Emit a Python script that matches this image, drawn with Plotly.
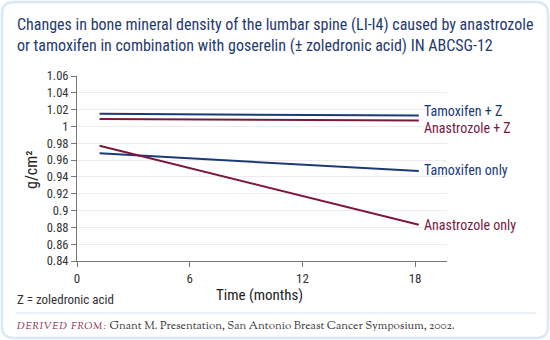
import plotly.graph_objects as go

# Time points (months) and lumbar-spine BMD (g/cm²) for each arm
months = [1.2, 18.2]
tamoxifen_z = [1.015, 1.013]
anastrozole_z = [1.009, 1.007]
tamoxifen_only = [0.968, 0.947]
anastrozole_only = [0.977, 0.883]

series_names = ["Tamoxifen + Z", "Anastrozole + Z", "Tamoxifen only", "Anastrozole only"]
series_values = [tamoxifen_z, anastrozole_z, tamoxifen_only, anastrozole_only]
series_colors = ["#1b3a78", "#7b1840", "#1b3a78", "#7b1840"]
label_shift = [5, -7, 1, 0]

y_ticks = [0.84, 0.86, 0.88, 0.9, 0.92, 0.94, 0.96, 0.98, 1.0, 1.02, 1.04, 1.06]
y_tick_text = ["0.84", "0.86", "0.88", "0.9", "0.92", "0.94", "0.96", "0.98", "1", "1.02", "1.04", "1.06"]
x_ticks = [0, 6, 12, 18]

NARROW = "Roboto Condensed, Archivo Narrow, Liberation Sans Narrow, sans-serif"
SERIF = "Sorts Mill Goudy, Crimson Text, Liberation Serif, serif"

W, H = 550, 340
L, R, T, B = 77, 103, 76, 79
PW, PH = W - L - R, H - T - B


def px_x(x):
    """Pixel column -> paper x."""
    return (x - L) / PW


def px_y(y):
    """Pixel row (from top) -> paper y."""
    return (H - B - y) / PH


fig = go.Figure()
for name, vals, col, dy in zip(series_names, series_values, series_colors, label_shift):
    fig.add_trace(go.Scatter(x=months, y=vals, mode="lines", name=name,
                             line=dict(color=col, width=2), showlegend=False,
                             hoverinfo="skip"))
    fig.add_annotation(x=months[-1], y=vals[-1], xref="x", yref="y", text=name,
                       showarrow=False, xanchor="left", yanchor="middle",
                       xshift=3, yshift=dy,
                       font=dict(family=NARROW, size=14, color=col))

fig.update_layout(
    width=W, height=H,
    margin=dict(l=L, r=R, t=T, b=B),
    paper_bgcolor="white", plot_bgcolor="white",
    xaxis=dict(range=[0, 19.7], tickvals=x_ticks, ticks="outside", ticklen=5,
               tickcolor="#777", showline=True, linecolor="#777", linewidth=1,
               showgrid=False, zeroline=False,
               tickfont=dict(family=NARROW, size=13, color="#333")),
    yaxis=dict(range=[0.84, 1.06], tickvals=y_ticks, ticktext=y_tick_text,
               ticks="outside", ticklen=5, tickcolor="#777",
               showline=True, linecolor="#777", linewidth=1,
               showgrid=True, gridcolor="#ececec", gridwidth=1, zeroline=False,
               tickfont=dict(family=NARROW, size=12.5, color="#333")),
)

# Rounded outer frame, built in pixel space
x0, x1, y0, y1, rad = 2, 548, 2, 338, 12
pts = [("M", x0 + rad, y0), ("L", x1 - rad, y0), ("Q", x1, y0, x1, y0 + rad),
       ("L", x1, y1 - rad), ("Q", x1, y1, x1 - rad, y1), ("L", x0 + rad, y1),
       ("Q", x0, y1, x0, y1 - rad), ("L", x0, y0 + rad), ("Q", x0, y0, x0 + rad, y0)]
path = ""
for p in pts:
    cmd, coords = p[0], p[1:]
    pairs = [f"{px_x(coords[i]):.5f},{px_y(coords[i + 1]):.5f}" for i in range(0, len(coords), 2)]
    path += f"{cmd} " + " ".join(pairs) + " "
path += "Z"
fig.add_shape(type="path", xref="paper", yref="paper", path=path,
              line=dict(color="#dbe8f6", width=2.5), layer="below")
# divider above the source line
fig.add_shape(type="line", xref="paper", yref="paper",
              x0=px_x(16), x1=px_x(536), y0=px_y(313), y1=px_y(313),
              line=dict(color="#e0ebf7", width=1.5))

# Title
fig.add_annotation(xref="paper", yref="paper", x=px_x(15), y=px_y(13),
                   xanchor="left", yanchor="top", showarrow=False, align="left",
                   text="Changes in bone mineral density of the lumbar spine (LI-I4) caused by anastrozole<br>"
                        "or tamoxifen in combination with goserelin (± zoledronic acid) IN ABCSG-12",
                   font=dict(family=NARROW, size=16, color="#1f3a6e"))
# Axis titles
fig.add_annotation(xref="paper", yref="paper", x=px_x(259), y=px_y(295),
                   xanchor="center", yanchor="middle", showarrow=False,
                   text="Time (months)",
                   font=dict(family=NARROW, size=15, color="#222"))
fig.add_annotation(xref="paper", yref="paper", x=px_x(31), y=px_y(170),
                   xanchor="center", yanchor="middle", showarrow=False, textangle=-90,
                   text="g/cm²",
                   font=dict(family=NARROW, size=16, color="#222"))
# Footnotes
fig.add_annotation(xref="paper", yref="paper", x=px_x(15), y=px_y(299),
                   xanchor="left", yanchor="middle", showarrow=False,
                   text="Z = zoledronic acid",
                   font=dict(family=NARROW, size=13, color="#333"))
fig.add_annotation(xref="paper", yref="paper", x=px_x(15), y=px_y(326),
                   xanchor="left", yanchor="middle", showarrow=False,
                   text="<i><span style='color:#8a2048;font-size:10px;letter-spacing:1px'>DERIVED FROM:</span></i> "
                        "Gnant M. Presentation, San Antonio Breast Cancer Symposium, 2002.",
                   font=dict(family=SERIF, size=11.5, color="#333"))

fig.write_html("out.html")
